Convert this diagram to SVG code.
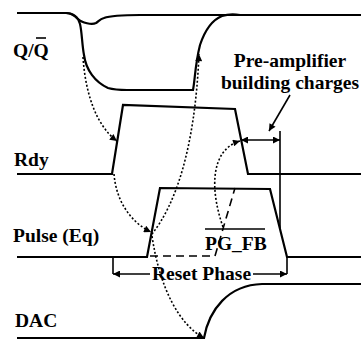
<svg xmlns="http://www.w3.org/2000/svg" width="361" height="340" viewBox="0 0 361 340">
<defs>
<style>
.w{fill:none;stroke:#000;stroke-width:2.2;stroke-linejoin:miter}
.d{fill:none;stroke:#000;stroke-width:1.6;stroke-dasharray:2,2}
.dash{fill:none;stroke:#000;stroke-width:1.6;stroke-dasharray:8,5}
.l{fill:none;stroke:#000;stroke-width:1.6}
.t{font-family:"Liberation Serif","Times New Roman",serif;font-weight:bold;font-size:19.5px;fill:#000}
</style>
<marker id="ah" viewBox="0 0 10 10" refX="10" refY="5" markerWidth="9" markerHeight="7" markerUnits="userSpaceOnUse" orient="auto-start-reverse"><path d="M0,0 L10,5 L0,10 Z" fill="#000"/></marker>
</defs>
<rect width="361" height="340" fill="#fff"/>
<g id="sig-q">
<path class="w" d="M17,13 H66 C72,13 75,16 78,19 C82,23 92,25 96,23 C99,21 100,19 104,18 C112,15 125,15 140,15 H361"/>
<path class="w" d="M66,13 C73,13 78,17 80,24 C82,32 82,45 84,55 C86,70 95,82 108,88 C115,90 122,90 127,90 H193 C195,80 195,65 200,45 C205,30 212,20 222,16 C228,14 234,14 240,15"/>
<text class="t" x="13" y="57">Q/Q</text>
<path class="l" d="M36,38 H46"/>
</g>
<g id="sig-rdy">
<path class="w" d="M17,174 H112 L123,105 L235,109 L248,174 H361"/>
<text class="t" x="14" y="166">Rdy</text>
</g>
<g id="sig-pulse">
<path class="w" d="M17,257 H147 L160,188 L270,189 L287,257 H361"/>
<text class="t" x="13" y="242">Pulse (Eq)</text>
</g>
<g id="sig-pgfb">
<path class="dash" d="M150,256 H215 L235,188"/>
<path class="l" d="M205,229 H265"/>
<text class="t" x="205" y="250">PG_FB</text>
</g>
<g id="sig-dac">
<path class="w" d="M17,338 H204 C209,310 228,285 262,284 H361"/>
<text class="t" x="15" y="327">DAC</text>
</g>
<g id="reset-phase">
<path class="l" d="M113,257 V274"/>
<path class="l" d="M150,274 H113" marker-end="url(#ah)"/>
<path class="l" d="M287,257 V274"/>
<path class="l" d="M253,274 H287" marker-end="url(#ah)"/>
<text class="t" x="152" y="280">Reset Phase</text>
</g>
<g id="preamp">
<text class="t" x="290" y="67" text-anchor="middle">Pre-amplifier</text>
<text class="t" x="290" y="89" text-anchor="middle">building charges</text>
<path class="l" d="M280,131 V228"/>
<path class="l" d="M241,140 H280" marker-start="url(#ah)" marker-end="url(#ah)"/>
<path class="l" d="M290,95 L269,131" marker-end="url(#ah)"/>
</g>
<g id="connectors">
<path class="d" d="M83,57 C85,90 95,125 117,141" marker-end="url(#ah)"/>
<path class="d" d="M114,174 C116,200 130,222 151,232" marker-end="url(#ah)"/>
<path class="d" d="M152,236 C160,290 180,325 204,338" marker-end="url(#ah)"/>
<path class="d" d="M152,234 C175,205 195,150 199,54" marker-end="url(#ah)"/>
<path class="d" d="M223,227 C210,190 210,150 240,141" marker-end="url(#ah)"/>
</g>
</svg>
